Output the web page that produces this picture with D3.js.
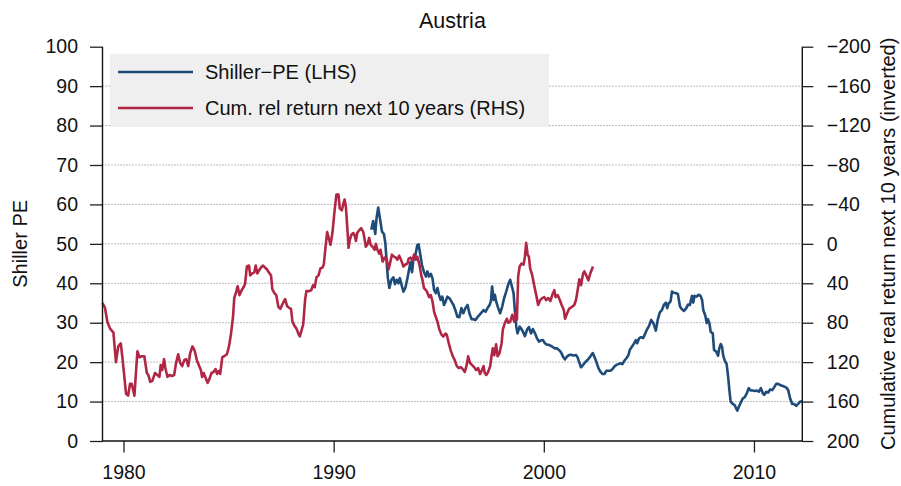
<!DOCTYPE html>
<html>
<head>
<meta charset="utf-8">
<script src="https://cdn.jsdelivr.net/npm/d3@7/dist/d3.min.js"></script>
<style>
  body { margin: 0; background: #fff; }
  svg { display: block; font-family: "Liberation Sans", Arial, Helvetica, sans-serif; }
</style>
</head>
<body>
<script>
'use strict';

// Shiller PE (left axis), monthly-ish readings
const peYears = [
  1991.79, 1991.88, 1991.98, 1992.04, 1992.12, 1992.20, 1992.30, 1992.39, 1992.46, 1992.52,
  1992.58, 1992.65, 1992.75, 1992.84, 1992.92, 1993.00, 1993.08, 1993.15, 1993.25, 1993.32,
  1993.41, 1993.51, 1993.60, 1993.66, 1993.73, 1993.79, 1993.89, 1993.98, 1994.04, 1994.10,
  1994.20, 1994.30, 1994.39, 1994.46, 1994.54, 1994.62, 1994.70, 1994.78, 1994.86, 1994.94,
  1995.01, 1995.09, 1995.17, 1995.25, 1995.33, 1995.41, 1995.51, 1995.60, 1995.70, 1995.79,
  1995.89, 1995.98, 1996.08, 1996.17, 1996.27, 1996.37, 1996.46, 1996.56, 1996.65, 1996.75,
  1996.84, 1996.94, 1997.04, 1997.13, 1997.23, 1997.32, 1997.42, 1997.48, 1997.54, 1997.61,
  1997.67, 1997.73, 1997.83, 1997.92, 1998.02, 1998.11, 1998.21, 1998.30, 1998.40, 1998.50,
  1998.56, 1998.62, 1998.69, 1998.75, 1998.85, 1998.91, 1999.01, 1999.10, 1999.20, 1999.29,
  1999.39, 1999.48, 1999.58, 1999.67, 1999.77, 1999.86, 1999.96, 2000.05, 2000.15, 2000.24,
  2000.34, 2000.43, 2000.53, 2000.62, 2000.72, 2000.82, 2000.91, 2001.01, 2001.10, 2001.20,
  2001.29, 2001.40, 2001.53, 2001.61, 2001.69, 2001.77, 2001.87, 2001.96, 2002.09, 2002.21,
  2002.33, 2002.40, 2002.50, 2002.60, 2002.69, 2002.79, 2002.88, 2002.98, 2003.07, 2003.17,
  2003.26, 2003.36, 2003.45, 2003.55, 2003.65, 2003.74, 2003.84, 2003.93, 2004.03, 2004.09,
  2004.19, 2004.28, 2004.38, 2004.44, 2004.54, 2004.63, 2004.73, 2004.82, 2004.92, 2005.01,
  2005.11, 2005.20, 2005.26, 2005.33, 2005.42, 2005.52, 2005.62, 2005.71, 2005.81, 2005.87,
  2005.93, 2006.03, 2006.10, 2006.19, 2006.29, 2006.38, 2006.48, 2006.57, 2006.67, 2006.78,
  2006.86, 2006.95, 2007.05, 2007.11, 2007.17, 2007.27, 2007.36, 2007.46, 2007.53, 2007.59,
  2007.69, 2007.75, 2007.81, 2007.88, 2007.94, 2008.04, 2008.10, 2008.20, 2008.29, 2008.35,
  2008.42, 2008.48, 2008.54, 2008.61, 2008.70, 2008.77, 2008.83, 2008.89, 2008.99, 2009.08,
  2009.15, 2009.21, 2009.28, 2009.37, 2009.47, 2009.56, 2009.66, 2009.75, 2009.85, 2009.94,
  2010.04, 2010.13, 2010.23, 2010.33, 2010.42, 2010.49, 2010.58, 2010.68, 2010.77, 2010.87,
  2010.96, 2011.06, 2011.15, 2011.25, 2011.34, 2011.44, 2011.53, 2011.63, 2011.72, 2011.82,
  2011.91, 2012.01, 2012.10, 2012.20, 2012.29
];
const peValues = [
  53.6, 55.8, 52.5, 56.5, 59.2, 56.5, 53.1, 52.5, 50.2, 45.5,
  41.3, 38.8, 40.9, 41.5, 39.8, 40.9, 40.0, 41.3, 39.2, 37.9,
  38.8, 41.3, 43.8, 45.4, 42.8, 45.9, 47.2, 49.7, 49.9, 48.0,
  44.7, 42.8, 41.7, 43.0, 41.7, 42.4, 41.3, 38.3, 37.5, 38.8,
  37.1, 35.8, 36.6, 34.5, 35.4, 36.6, 36.2, 35.4, 34.5, 33.2,
  31.5, 31.4, 33.7, 32.4, 33.7, 34.5, 32.4, 30.9, 30.9, 30.7,
  31.4, 32.0, 32.6, 33.2, 32.8, 33.7, 34.5, 35.4, 39.2, 35.8,
  37.1, 35.4, 33.7, 32.4, 34.1, 36.2, 37.9, 39.6, 40.9, 38.8,
  37.5, 33.2, 29.0, 27.3, 29.0, 28.6, 27.7, 26.6, 28.2, 28.9,
  27.3, 28.4, 27.3, 26.1, 25.2, 25.5, 25.6, 24.8, 24.4, 24.4,
  24.1, 23.8, 23.5, 23.5, 23.1, 22.5, 21.4, 20.7, 21.4, 21.8,
  21.9, 21.7, 21.8, 21.2, 19.9, 18.7, 19.3, 19.9, 20.6, 21.4,
  22.3, 21.4, 20.1, 18.5, 17.6, 17.0, 17.0, 17.8, 17.8, 17.8,
  18.2, 18.9, 19.3, 19.5, 19.7, 19.5, 20.4, 21.0, 21.8, 23.1,
  23.9, 24.6, 25.6, 24.8, 26.1, 26.3, 26.1, 27.2, 28.4, 29.2,
  30.7, 30.0, 29.2, 28.0, 30.7, 32.6, 33.2, 34.5, 35.1, 33.7,
  34.8, 35.4, 37.9, 37.6, 37.5, 37.3, 34.1, 33.4, 33.0, 33.7,
  34.6, 34.5, 36.8, 35.1, 36.8, 36.6, 37.1, 36.8, 35.8, 33.2,
  31.7, 29.9, 30.9, 29.9, 27.7, 27.3, 23.1, 22.7, 21.6, 23.5,
  24.6, 23.9, 21.6, 20.4, 19.5, 16.3, 12.9, 10.0, 9.4, 9.1,
  8.3, 7.7, 8.7, 9.7, 10.8, 11.1, 12.1, 13.4, 12.8, 12.8,
  12.7, 12.8, 12.5, 13.4, 12.1, 11.7, 12.5, 12.3, 13.1, 12.9,
  13.6, 14.5, 14.5, 14.2, 14.0, 13.8, 13.6, 12.9, 10.8, 9.4,
  9.4, 8.9, 9.4, 10.0, 10.0
];

// cumulative relative return next 10 years (right axis, inverted)
const retYears = [
  1979.00, 1979.12, 1979.23, 1979.36, 1979.52, 1979.64, 1979.75, 1979.87, 1979.96, 1980.12,
  1980.22, 1980.31, 1980.39, 1980.52, 1980.66, 1980.76, 1980.87, 1980.99, 1981.11, 1981.18,
  1981.27, 1981.37, 1981.50, 1981.61, 1981.71, 1981.77, 1981.84, 1981.93, 1981.99, 1982.09,
  1982.19, 1982.30, 1982.41, 1982.50, 1982.60, 1982.70, 1982.79, 1982.89, 1982.98, 1983.08,
  1983.17, 1983.28, 1983.38, 1983.49, 1983.60, 1983.68, 1983.74, 1983.81, 1983.89, 1984.00,
  1984.09, 1984.19, 1984.28, 1984.38, 1984.45, 1984.52, 1984.60, 1984.70, 1984.79, 1984.92,
  1985.02, 1985.11, 1985.21, 1985.27, 1985.37, 1985.43, 1985.52, 1985.62, 1985.71, 1985.78,
  1985.87, 1985.97, 1986.03, 1986.13, 1986.22, 1986.29, 1986.37, 1986.45, 1986.54, 1986.64,
  1986.73, 1986.83, 1986.92, 1987.02, 1987.08, 1987.18, 1987.27, 1987.37, 1987.46, 1987.59,
  1987.69, 1987.78, 1987.88, 1987.97, 1988.04, 1988.13, 1988.23, 1988.32, 1988.39, 1988.48,
  1988.55, 1988.64, 1988.70, 1988.81, 1988.93, 1989.02, 1989.10, 1989.18, 1989.28, 1989.37,
  1989.47, 1989.53, 1989.61, 1989.69, 1989.79, 1989.85, 1989.94, 1990.04, 1990.13, 1990.23,
  1990.29, 1990.39, 1990.45, 1990.52, 1990.58, 1990.65, 1990.71, 1990.77, 1990.84, 1990.93,
  1990.99, 1991.06, 1991.12, 1991.22, 1991.31, 1991.41, 1991.47, 1991.53, 1991.60, 1991.69,
  1991.76, 1991.85, 1991.95, 1992.01, 1992.08, 1992.17, 1992.23, 1992.33, 1992.42, 1992.52,
  1992.61, 1992.68, 1992.77, 1992.87, 1992.96, 1993.03, 1993.12, 1993.22, 1993.32, 1993.41,
  1993.51, 1993.57, 1993.66, 1993.76, 1993.82, 1993.92, 1993.98, 1994.08, 1994.17, 1994.22,
  1994.30, 1994.43, 1994.54, 1994.62, 1994.70, 1994.78, 1994.86, 1994.94, 1995.03, 1995.13,
  1995.22, 1995.32, 1995.38, 1995.48, 1995.57, 1995.67, 1995.76, 1995.86, 1995.95, 1996.05,
  1996.14, 1996.24, 1996.33, 1996.40, 1996.49, 1996.59, 1996.68, 1996.78, 1996.87, 1996.97,
  1997.06, 1997.13, 1997.19, 1997.26, 1997.35, 1997.45, 1997.51, 1997.57, 1997.64, 1997.73,
  1997.80, 1997.89, 1997.99, 1998.05, 1998.15, 1998.24, 1998.30, 1998.40, 1998.50, 1998.59,
  1998.66, 1998.72, 1998.78, 1998.85, 1998.94, 1999.04, 1999.10, 1999.16, 1999.23, 1999.29,
  1999.35, 1999.45, 1999.54, 1999.64, 1999.73, 1999.83, 1999.92, 2000.02, 2000.11, 2000.21,
  2000.31, 2000.40, 2000.50, 2000.56, 2000.66, 2000.76, 2000.85, 2000.95, 2001.01, 2001.10,
  2001.20, 2001.33, 2001.45, 2001.53, 2001.61, 2001.69, 2001.77, 2001.87, 2001.93, 2002.02,
  2002.12, 2002.21, 2002.34
];
const retValues = [
  60, 65, 79, 86, 90, 120, 104, 101, 118, 152,
  154, 142, 142, 154, 109, 115, 114, 114, 131, 133,
  140, 139, 131, 133, 135, 123, 128, 117, 126, 135,
  133, 134, 133, 121, 112, 121, 124, 118, 117, 124,
  111, 104, 108, 118, 124, 128, 135, 131, 135, 141,
  137, 131, 130, 127, 132, 129, 132, 115, 114, 112,
  104, 92, 74, 55, 48, 43, 52, 47, 44, 41,
  23, 22, 32, 30, 29, 22, 30, 27, 24, 22,
  24, 26, 29, 32, 46, 50, 52, 64, 66, 60,
  56, 63, 65, 66, 79, 83, 86, 91, 94, 87,
  82, 57, 48, 48, 47, 42, 44, 34, 32, 25,
  24, 21, 4, -12, -4, 1, -11, -33, -50, -50,
  -36, -34, -40, -45, -38, -16, 4, -4, -9, -11,
  -9, -3, -11, -14, -16, -12, -5, 3, 1, -6,
  1, 3, 6, 0, 6, 10, 6, 18, 14, 15,
  26, 20, 11, 13, 14, 16, 12, 17, 23, 21,
  20, 15, 14, 17, 11, 16, 13, 21, 32, 36,
  45, 48, 54, 52, 58, 69, 74, 79, 87, 92,
  94, 91, 92, 101, 108, 114, 118, 124, 126, 125,
  127, 130, 123, 114, 121, 123, 125, 128, 126, 132,
  128, 124, 131, 133, 130, 124, 114, 106, 113, 102,
  114, 111, 101, 87, 80, 76, 80, 79, 72, 79,
  70, 77, 33, 23, 20, 21, 13, -1, 11, 13,
  25, 32, 42, 52, 62, 57, 55, 54, 57, 55,
  58, 52, 47, 54, 52, 57, 62, 67, 76, 71,
  66, 64, 62, 57, 47, 36, 42, 30, 28, 32,
  37, 30, 23
];

const leftTicks = [0, 10, 20, 30, 40, 50, 60, 70, 80, 90, 100];
const gridLevels = [10, 20, 30, 40, 50, 60, 70, 80, 90];
const rightTicks = [-200, -160, -120, -80, -40, 0, 40, 80, 120, 160, 200];
const yearTicks = [1980, 1990, 2000, 2010];
const seriesNames = ["Shiller\u2212PE (LHS)", "Cum. rel return next 10 years (RHS)"];

const BLUE = "#1f4b78";
const RED = "#b02745";

const width = 901, height = 486;
const plot = { left: 102.5, right: 802.3, top: 46.7, bottom: 441 };

const svg = d3.select("body").append("svg")
  .attr("width", width)
  .attr("height", height);

const x = d3.scaleLinear().domain([1979.0, 2012.3]).range([plot.left, plot.right]);
const yL = d3.scaleLinear().domain([0, 100]).range([plot.bottom, plot.top]);
const yR = d3.scaleLinear().domain([200, -200]).range([plot.bottom, plot.top]);

// dotted grid
svg.append("g")
  .selectAll("line")
  .data(gridLevels)
  .enter()
  .append("line")
    .attr("x1", plot.left)
    .attr("x2", plot.right)
    .attr("y1", d => yL(d))
    .attr("y2", d => yL(d))
    .attr("stroke", "#777")
    .attr("stroke-width", 1)
    .attr("stroke-dasharray", "1,2");

// lines
const peData = peYears.map((yr, i) => [yr, peValues[i]]);
const retData = retYears.map((yr, i) => [yr, retValues[i]]);

svg.append("path")
  .datum(peData)
  .attr("fill", "none")
  .attr("stroke", BLUE)
  .attr("stroke-width", 2.6)
  .attr("stroke-linejoin", "round")
  .attr("d", d3.line().x(d => x(d[0])).y(d => yL(d[1])));

svg.append("path")
  .datum(retData)
  .attr("fill", "none")
  .attr("stroke", RED)
  .attr("stroke-width", 2.6)
  .attr("stroke-linejoin", "round")
  .attr("d", d3.line().x(d => x(d[0])).y(d => yR(d[1])));

// axes
const fontSize = "19.5px";
function styleAxis(g) {
  g.select(".domain").remove();
  g.selectAll(".tick line").attr("stroke", "#222").attr("stroke-width", 1.3);
  g.selectAll(".tick text").attr("fill", "#111").style("font-size", fontSize)
    .style("font-family", '"Liberation Sans", Arial, sans-serif');
}

svg.append("g")
  .attr("transform", "translate(" + plot.left + ",0)")
  .call(d3.axisLeft(yL).tickValues(leftTicks).tickSize(12.5).tickPadding(12).tickSizeOuter(0))
  .call(styleAxis);

svg.append("g")
  .attr("transform", "translate(" + plot.right + ",0)")
  .call(d3.axisRight(yR).tickValues(rightTicks).tickSize(11).tickPadding(13.5).tickSizeOuter(0)
    .tickFormat(d => d < 0 ? "\u2212" + Math.abs(d) : String(d)))
  .call(styleAxis);

svg.append("g")
  .attr("transform", "translate(0," + plot.bottom + ")")
  .call(d3.axisBottom(x).tickValues(yearTicks).tickSize(11.5).tickPadding(12.5).tickSizeOuter(0)
    .tickFormat(d3.format("d")))
  .call(styleAxis);

// box open at the top
svg.append("path")
  .attr("d", "M" + plot.left + "," + plot.top + "V" + plot.bottom + "H" + plot.right + "V" + plot.top)
  .attr("fill", "none")
  .attr("stroke", "#111")
  .attr("stroke-width", 1.4);

// titles
svg.append("text")
  .attr("x", (plot.left + plot.right) / 2)
  .attr("y", 28)
  .attr("text-anchor", "middle")
  .style("font-size", "21.5px")
  .attr("fill", "#111")
  .text("Austria");

svg.append("text")
  .attr("transform", "translate(27," + ((plot.top + plot.bottom) / 2) + ")rotate(-90)")
  .attr("text-anchor", "middle")
  .style("font-size", "20px")
  .attr("fill", "#111")
  .text("Shiller PE");

svg.append("text")
  .attr("transform", "translate(895," + ((plot.top + plot.bottom) / 2) + ")rotate(-90)")
  .attr("text-anchor", "middle")
  .style("font-size", "20px")
  .attr("fill", "#111")
  .text("Cumulative real return next 10 years (inverted)");

// legend
const legend = svg.append("g");
legend.append("rect")
  .attr("x", 110)
  .attr("y", 54)
  .attr("width", 439)
  .attr("height", 73)
  .attr("fill", "#efefef");

const legendColors = [BLUE, RED];
const legendY = [72, 108];
seriesNames.forEach((name, i) => {
  legend.append("line")
    .attr("x1", 118).attr("x2", 193)
    .attr("y1", legendY[i]).attr("y2", legendY[i])
    .attr("stroke", legendColors[i])
    .attr("stroke-width", 2.6);
  legend.append("text")
    .attr("x", 205)
    .attr("y", legendY[i])
    .attr("dy", "0.36em")
    .style("font-size", "20px")
    .attr("fill", "#111")
    .text(name);
});
</script>
</body>
</html>
